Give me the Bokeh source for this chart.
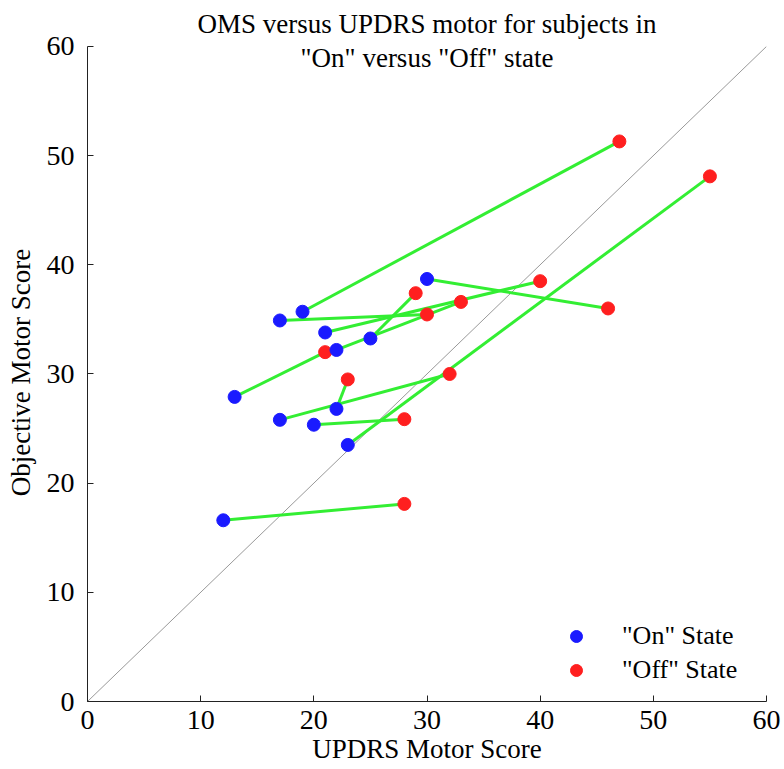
from bokeh.plotting import figure
from bokeh.models import Range1d, SingleIntervalTicker, Label, Legend, LegendItem, ColumnDataSource
from bokeh.embed import file_html
from bokeh.resources import INLINE

# Paired scores per subject: "On" medication state and "Off" state
on_updrs = [12, 13, 17, 19, 21, 22, 25, 30, 17, 20, 22, 23]
on_oms = [16.6, 27.9, 34.9, 35.7, 33.8, 32.2, 33.25, 38.7, 25.8, 25.35, 26.8, 23.5]
off_updrs = [28, 21, 30, 47, 40, 33, 29, 46, 32, 28, 23, 55]
off_oms = [18.1, 32.0, 35.45, 51.3, 38.5, 36.6, 37.4, 36.0, 30.0, 25.86, 29.5, 48.1]

# Line of identity
identity = [0, 60]
ticks_step = 10

title_lines = ["OMS versus UPDRS motor for subjects in", '"On" versus "Off" state']
x_label = "UPDRS Motor Score"
y_label = "Objective Motor Score"
legend_labels = ['"On" State', '"Off" State']

FONT = "Liberation Serif"
GREEN = "#33ee33"
BLUE = "#1a1aff"
RED = "#ff1f1f"

# Small headroom above 60 so the second title line sits inside the frame;
# the axes themselves are bounded to 0..60.
Y_TOP = 60.27

p = figure(width=784, height=769, output_backend="svg", toolbar_location=None,
           x_range=Range1d(0, 60), y_range=Range1d(0, Y_TOP),
           min_border_left=87, min_border_right=18, min_border_top=43, min_border_bottom=68)
p.outline_line_color = None
p.xgrid.visible = False
p.ygrid.visible = False

p.title.text = title_lines[0]
p.title.align = "center"
p.title.text_font = FONT
p.title.text_font_size = "27px"
p.title.text_font_style = "normal"
p.title.text_color = "black"
p.title.standoff = 10

for ax in (p.xaxis[0], p.yaxis[0]):
    ax.ticker = SingleIntervalTicker(interval=ticks_step)
    ax.bounds = (0, 60)
    ax.minor_tick_line_color = None
    ax.major_tick_in = 6
    ax.major_tick_out = 0
    ax.axis_line_color = "#222222"
    ax.major_tick_line_color = "#222222"
    ax.major_label_text_font = FONT
    ax.major_label_text_font_size = "28px"
    ax.major_label_text_color = "black"
    ax.axis_label_text_font = FONT
    ax.axis_label_text_font_size = "27px"
    ax.axis_label_text_font_style = "normal"
    ax.axis_label_text_color = "black"

p.xaxis.axis_label = x_label
p.yaxis.axis_label = y_label
p.xaxis.major_label_standoff = 5
p.xaxis.axis_label_standoff = 2
p.yaxis.major_label_standoff = 9
p.yaxis.axis_label_standoff = 8

p.line(identity, identity, line_color="#999999", line_width=1)

src = ColumnDataSource(dict(x0=on_updrs, y0=on_oms, x1=off_updrs, y1=off_oms))
p.segment(x0="x0", y0="y0", x1="x1", y1="y1", source=src, line_color=GREEN, line_width=3)

r_off = p.scatter(off_updrs, off_oms, marker="circle", size=13, fill_color=RED, line_color=RED)
r_on = p.scatter(on_updrs, on_oms, marker="circle", size=13, fill_color=BLUE, line_color=BLUE)

legend = Legend(items=[LegendItem(label=legend_labels[0], renderers=[r_on]),
                       LegendItem(label=legend_labels[1], renderers=[r_off])],
                location=(474, 14), padding=0, margin=0, spacing=0,
                glyph_width=30, glyph_height=34, label_height=34, label_standoff=31,
                border_line_alpha=0, background_fill_alpha=0,
                label_text_font=FONT, label_text_font_size="26px", label_text_color="black")
p.add_layout(legend, "center")

# Second title line, centered over the plotting area
p.add_layout(Label(x=30, y=58.9, text=title_lines[1], text_align="center", text_baseline="alphabetic",
                   text_font=FONT, text_font_size="27px", text_color="black"))

open("out.html", "w").write(file_html(p, INLINE))
